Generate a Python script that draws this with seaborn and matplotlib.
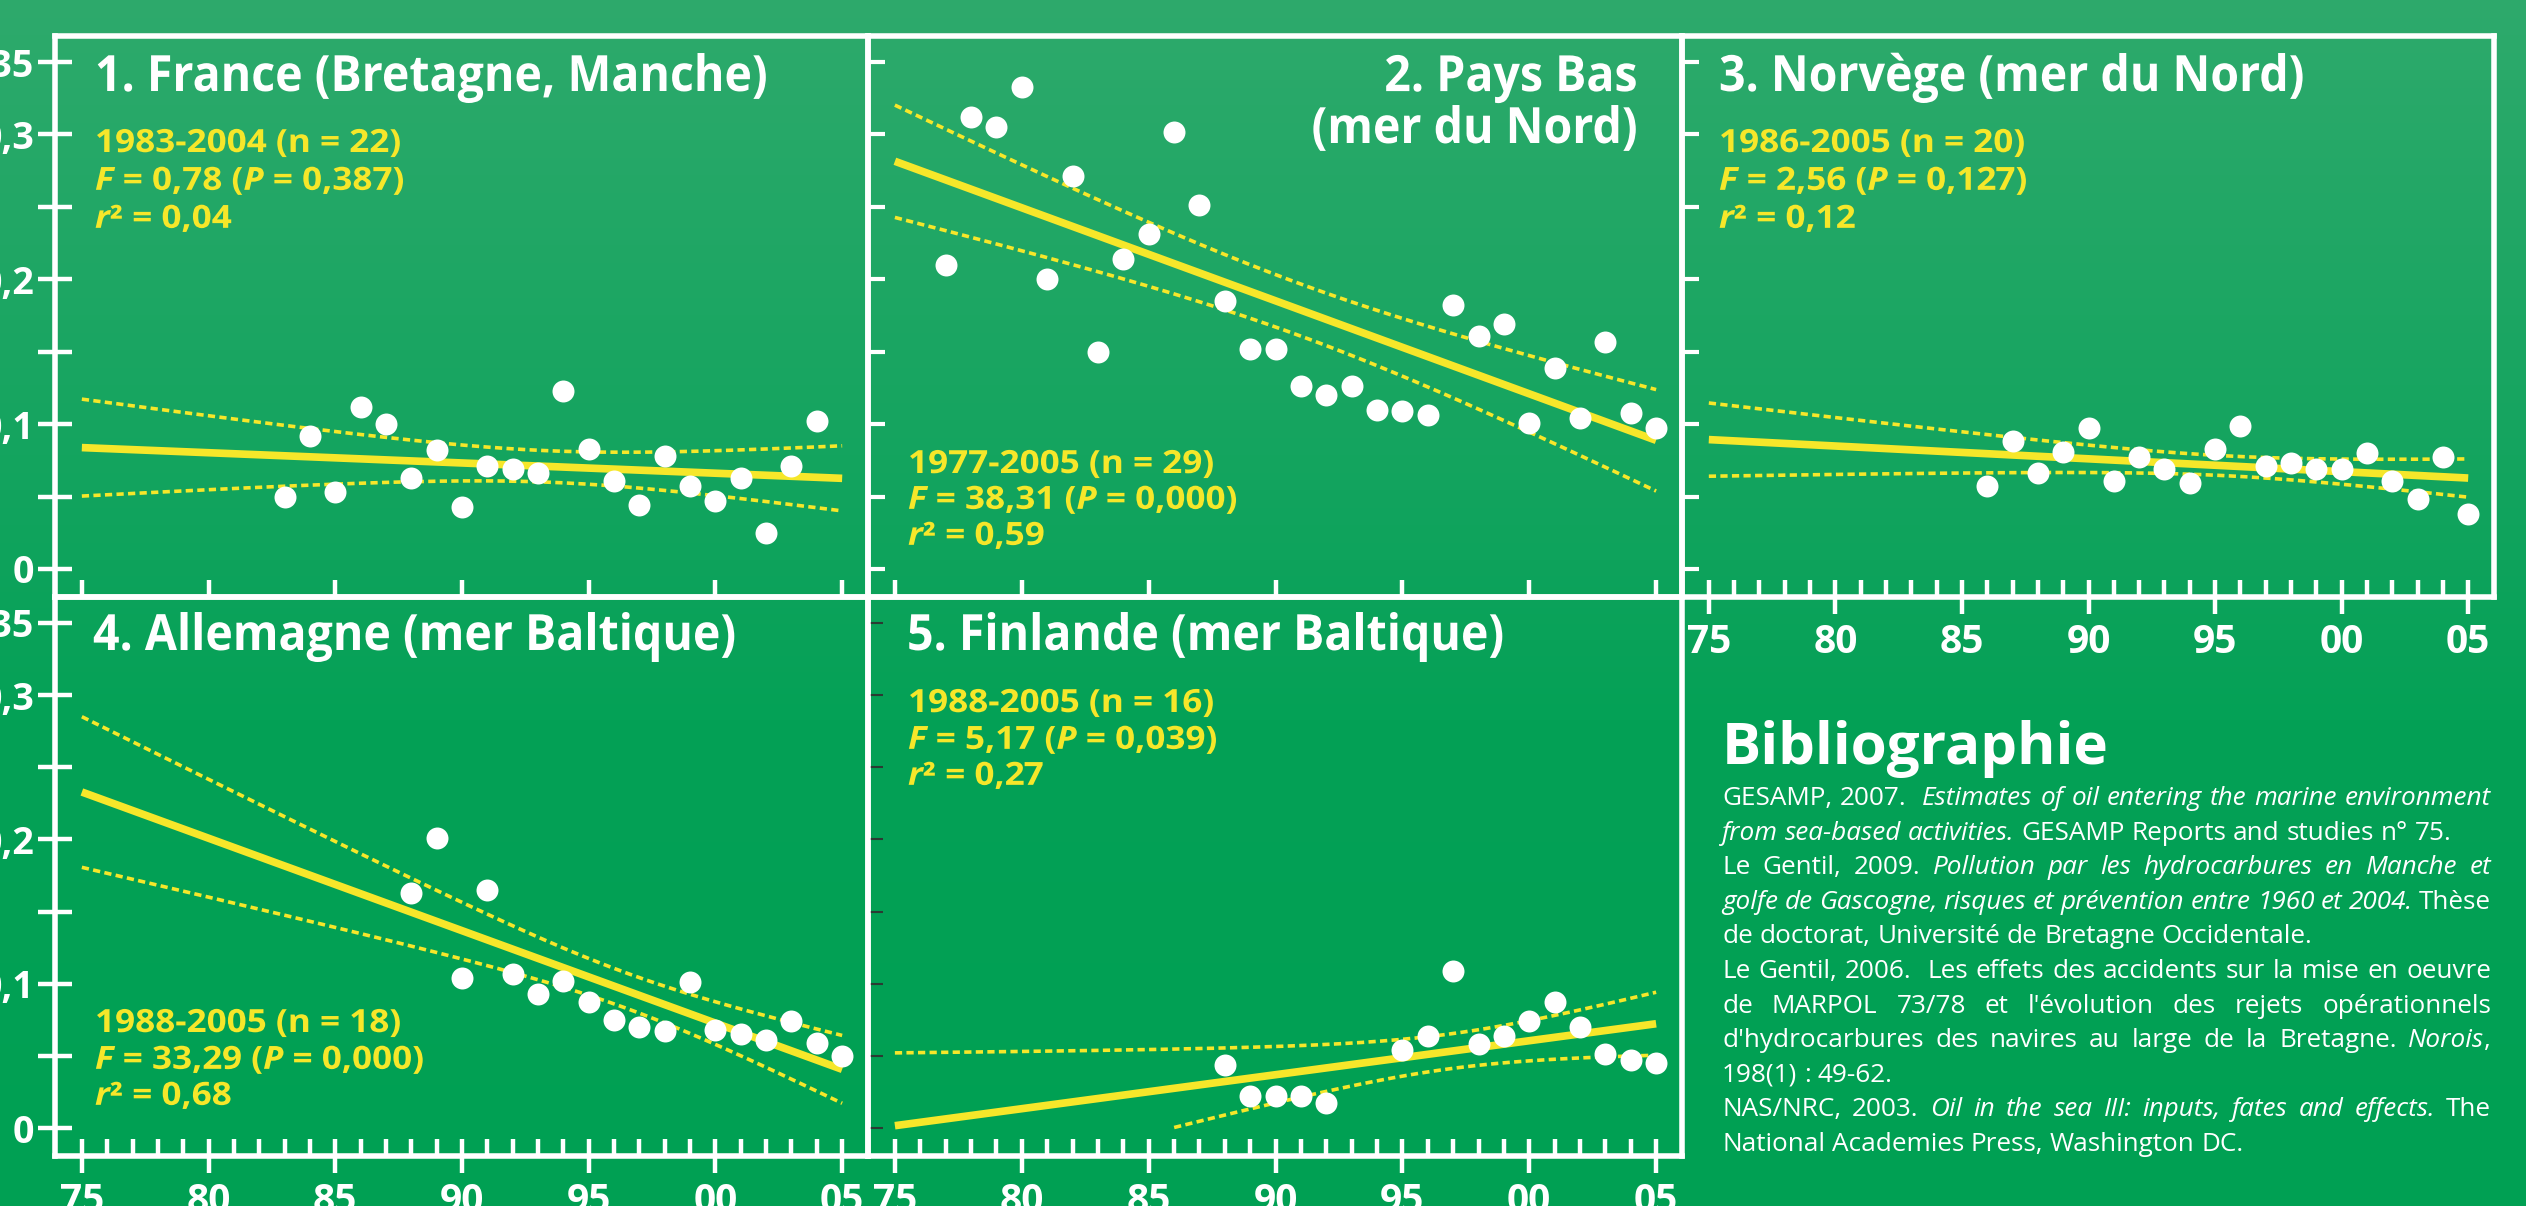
import numpy as np
import pandas as pd
import matplotlib
matplotlib.use("Agg")
import matplotlib.pyplot as plt
import seaborn as sns
from matplotlib import patheffects
from matplotlib.transforms import Affine2D

# ------------------------------------------------------------------ data
france_years = np.arange(1983, 2005)
france_vals = [0.050, 0.092, 0.053, 0.112, 0.100, 0.063, 0.082, 0.043, 0.071, 0.069, 0.066,
               0.123, 0.083, 0.061, 0.044, 0.078, 0.057, 0.047, 0.063, 0.025, 0.071, 0.102]

paysbas_years = np.arange(1977, 2006)
paysbas_vals = [0.210, 0.312, 0.305, 0.333, 0.200, 0.271, 0.150, 0.214, 0.231, 0.302,
                0.251, 0.185, 0.152, 0.152, 0.126, 0.120, 0.126, 0.110, 0.109, 0.106,
                0.182, 0.161, 0.169, 0.101, 0.139, 0.104, 0.157, 0.108, 0.097]

norvege_years = np.arange(1986, 2006)
norvege_vals = [0.057, 0.088, 0.066, 0.081, 0.097, 0.061, 0.077, 0.069, 0.059, 0.083,
                0.099, 0.071, 0.073, 0.069, 0.069, 0.080, 0.061, 0.048, 0.077, 0.038]

allemagne_years = np.arange(1988, 2006)
allemagne_vals = [0.163, 0.201, 0.104, 0.165, 0.107, 0.093, 0.102, 0.087, 0.075,
                  0.070, 0.067, 0.101, 0.068, 0.065, 0.061, 0.074, 0.059, 0.050]

finlande_years = [1988, 1989, 1990, 1991, 1992, 1995, 1996, 1997,
                  1998, 1999, 2000, 2001, 2002, 2003, 2004, 2005]
finlande_vals = [0.044, 0.022, 0.022, 0.022, 0.017, 0.054, 0.064, 0.109,
                 0.058, 0.064, 0.074, 0.087, 0.070, 0.051, 0.047, 0.045]

titles = ["1. France (Bretagne, Manche)", "2. Pays Bas\n(mer du Nord)",
          "3. Norvège (mer du Nord)", "4. Allemagne (mer Baltique)",
          "5. Finlande (mer Baltique)"]

stats = [
    ["1983-2004 (n = 22)", "$F$ = 0,78 ($P$ = 0,387)", "$r$² = 0,04"],
    ["1977-2005 (n = 29)", "$F$ = 38,31 ($P$ = 0,000)", "$r$² = 0,59"],
    ["1986-2005 (n = 20)", "$F$ = 2,56 ($P$ = 0,127)", "$r$² = 0,12"],
    ["1988-2005 (n = 18)", "$F$ = 33,29 ($P$ = 0,000)", "$r$² = 0,68"],
    ["1988-2005 (n = 16)", "$F$ = 5,17 ($P$ = 0,039)", "$r$² = 0,27"],
]

year_ticks = [1975, 1980, 1985, 1990, 1995, 2000, 2005]
year_labels = ["75", "80", "85", "90", "95", "00", "05"]
value_ticks = [0, 0.05, 0.10, 0.15, 0.20, 0.25, 0.30, 0.35]
value_labels = ["0", "", "0,1", "", "0,2", "", "0,3", "0,35"]

# two-sided 95 % Student t quantiles by degrees of freedom
t975 = {14: 2.145, 16: 2.120, 18: 2.101, 20: 2.086, 27: 2.052}

biblio_title = "Bibliographie"
# *...* marks italic runs; True = justified line
biblio_lines = [
    ("GESAMP, 2007.  *Estimates of oil entering the marine environment*", True),
    ("*from sea-based activities.* GESAMP Reports and studies n° 75.", False),
    ("Le Gentil, 2009. *Pollution par les hydrocarbures en Manche et*", True),
    ("*golfe de Gascogne, risques et prévention entre 1960 et 2004.* Thèse", True),
    ("de doctorat, Université de Bretagne Occidentale.", False),
    ("Le Gentil, 2006.  Les effets des accidents sur la mise en oeuvre", True),
    ("de MARPOL 73/78 et l'évolution des rejets opérationnels", True),
    ("d'hydrocarbures des navires au large de la Bretagne. *Norois*,", True),
    ("198(1) : 49-62.", False),
    ("NAS/NRC, 2003. *Oil in the sea III: inputs, fates and effects.* The", True),
    ("National Academies Press, Washington DC.", False),
]

# ------------------------------------------------------------------ style
W, H = 2526, 1206
YELLOW = "#f6e72a"
WHITE = "white"

sns.set_theme(style="ticks")
plt.rcParams["font.family"] = ["Open Sans", "DejaVu Sans"]
plt.rcParams["mathtext.fontset"] = "custom"
plt.rcParams["mathtext.rm"] = "Open Sans:bold"
plt.rcParams["mathtext.it"] = "Open Sans:italic:bold"
plt.rcParams["mathtext.bf"] = "Open Sans:bold"


class Condense(patheffects.AbstractPathEffect):
    """Rescale glyph outlines horizontally around an anchor."""

    def __init__(self, sx, anchor="left"):
        super().__init__()
        self.sx = sx
        self.anchor = anchor

    def draw_path(self, renderer, gc, tpath, affine, rgbFace=None):
        ext = tpath.get_extents()
        x0 = {"left": 0.0, "right": ext.x1, "center": 0.5 * (ext.x0 + ext.x1)}[self.anchor]
        t = Affine2D().translate(-x0, 0).scale(self.sx, 1).translate(x0, 0) + affine
        renderer.draw_path(gc, tpath, t, rgbFace)


def fx(x):
    return x / W


def fy(y):
    return 1 - y / H


fig = plt.figure(figsize=(W / 100, H / 100), dpi=100)

# green gradient backdrop
bg = fig.add_axes([0, 0, 1, 1], zorder=-10)
rows = np.arange(H)
stops = [0, 560, 720, H]
cols = np.array([[46, 170, 108], [14, 163, 92], [4, 161, 86], [0, 160, 83]]) / 255
img = np.stack([np.interp(rows, stops, cols[:, k]) for k in range(3)], axis=-1)[:, None, :]
bg.imshow(img, aspect="auto", extent=[0, 1, 0, 1], interpolation="bilinear")
bg.axis("off")

col_left = [55, 868, 1682]
col_w = [813, 814, 812]
row_top = [36, 597]
row_h = [561, 559]

datasets = [
    (france_years, france_vals),
    (paysbas_years, paysbas_vals),
    (norvege_years, norvege_vals),
    (allemagne_years, allemagne_vals),
    (finlande_years, finlande_vals),
]
grid_pos = [(0, 0), (0, 1), (0, 2), (1, 0), (1, 1)]

for i, ((yrs, vals), (r, c)) in enumerate(zip(datasets, grid_pos)):
    x0, w, y0, h = col_left[c], col_w[c], row_top[r], row_h[r]
    ax = fig.add_axes([fx(x0), fy(y0 + h), w / W, h / H])
    ax.set_facecolor("none")
    df = pd.DataFrame({"year": np.asarray(yrs, float), "value": np.asarray(vals, float)})

    ax.set_xlim(1975, 2005)
    ax.set_ylim(-0.0194, 0.368)
    sns.regplot(data=df, x="year", y="value", ax=ax, ci=None, truncate=False,
                scatter_kws=dict(s=250, color=WHITE, alpha=1, linewidths=0, zorder=5),
                line_kws=dict(color=YELLOW, linewidth=5.5, zorder=4,
                              solid_capstyle="butt"))

    # 95 % confidence band of the fitted mean
    xv, yv = df["year"].values, df["value"].values
    n = len(xv)
    b, a = np.polyfit(xv, yv, 1)
    resid = yv - (a + b * xv)
    s = np.sqrt(np.sum(resid ** 2) / (n - 2))
    sxx = np.sum((xv - xv.mean()) ** 2)
    gx = np.linspace(1975, 2005, 200)
    gy = a + b * gx
    half = t975[n - 2] * s * np.sqrt(1 / n + (gx - xv.mean()) ** 2 / sxx)
    lo = gy - half
    lo = np.where(lo >= 0, lo, np.nan)
    for band in (gy + half, lo):
        sns.lineplot(x=gx, y=band, ax=ax, color=YELLOW, linewidth=2.6,
                     linestyle=(0, (2.0, 1.2)), zorder=3)

    ax.set_xlim(1973.94, 2006.02)
    ax.set_ylim(-0.0194, 0.368)
    ax.set_xlabel("")
    ax.set_ylabel("")
    for sp in ax.spines.values():
        sp.set_visible(True)
        sp.set_color(WHITE)
        sp.set_linewidth(4)

    # y axis
    if c == 0:
        ax.set_yticks(value_ticks, value_labels, fontsize=27, fontweight="bold", color=WHITE)
        ax.tick_params(axis="y", direction="inout", length=24, width=3.2, color=WHITE, pad=3)
    else:
        ax.set_yticks(value_ticks, [""] * len(value_ticks))
        if i == 4:
            ax.tick_params(axis="y", direction="in", length=11, width=1.5, color="#2b3b33")
        else:
            ax.tick_params(axis="y", direction="in", length=12, width=3.0, color=WHITE)

    # x axis
    if r == 0 and c < 2:
        ax.set_xticks(year_ticks, [""] * len(year_ticks))
        ax.tick_params(axis="x", direction="in", length=12, width=3.2, color=WHITE)
    else:
        ax.set_xticks(year_ticks, year_labels, fontsize=28, fontweight="bold", color=WHITE)
        ax.set_xticks(np.arange(1975, 2006), minor=True)
        ax.tick_params(axis="x", which="major", direction="inout", length=24, width=3.2,
                       color=WHITE, pad=7)
        ax.tick_params(axis="x", which="minor", direction="in", length=12, width=3.2,
                       color=WHITE)
    ax.tick_params(top=False, right=False)

# panel titles
title_kw = dict(color=WHITE, fontsize=36, fontweight="bold", va="baseline")
fig.text(fx(95), fy(91), titles[0], ha="left",
         path_effects=[Condense(0.93)], **title_kw)
fig.text(fx(1638), fy(143), titles[1], ha="right", linespacing=1.05,
         path_effects=[Condense(0.93, "right")], **title_kw)
fig.text(fx(1719), fy(91), titles[2], ha="left",
         path_effects=[Condense(0.93)], **title_kw)
fig.text(fx(93), fy(650), titles[3], ha="left",
         path_effects=[Condense(0.93)], **title_kw)
fig.text(fx(907), fy(650), titles[4], ha="left",
         path_effects=[Condense(0.93)], **title_kw)

# regression statistics
stat_anchor = [(95, [152, 190, 228]), (908, [473, 509, 545]), (1719, [152, 190, 228]),
               (95, [1032, 1069, 1105]), (908, [712, 749, 785])]
for lines, (sx_, ys) in zip(stats, stat_anchor):
    for line, yb in zip(lines, ys):
        fig.text(fx(sx_), fy(yb), line, color=YELLOW, fontsize=23, fontweight="bold",
                 ha="left", va="baseline", path_effects=[Condense(1.1)])

# bibliography block
fig.text(fx(1722), fy(764), biblio_title, color=WHITE, fontsize=42, fontweight="bold",
         ha="left", va="baseline")

renderer = fig.canvas.get_renderer()
body_size = 18.8
left_px, right_px = 1722, 2491
base0, step = 805, 34.6


def parse_words(line):
    """Split a marked-up line into words; each word is a list of (text, italic) runs
    and carries the number of spaces before it."""
    words, runs, cur, italic = [], [], "", False
    pending_gap = 0
    for ch in line + " ":
        if ch == "*":
            if cur:
                runs.append((cur, italic))
                cur = ""
            italic = not italic
        elif ch == " ":
            if cur:
                runs.append((cur, italic))
                cur = ""
            if runs:
                words.append((pending_gap, runs))
                runs = []
                pending_gap = 0
            pending_gap += 1
        else:
            cur += ch
    return words


def make_text(x, y, s, italic):
    return fig.text(fx(x), fy(y), s, color=WHITE, fontsize=body_size,
                    fontstyle="italic" if italic else "normal", ha="left", va="baseline")


def width_of(t):
    return t.get_window_extent(renderer).width


probe_a = make_text(0, 0, "a a", False)
probe_b = make_text(0, 0, "aa", False)
space_w = width_of(probe_a) - width_of(probe_b)
probe_a.remove()
probe_b.remove()

for k, (line, justify) in enumerate(biblio_lines):
    yb = base0 + k * step
    words = parse_words(line)
    placed = []
    total = 0.0
    for gap, runs in words:
        items = []
        ww = 0.0
        for txt, it in runs:
            t = make_text(0, yb, txt, it)
            wi = width_of(t)
            items.append((t, ww))
            ww += wi
        placed.append((gap, items, ww))
        total += ww
    gaps = [g for g, _, _ in placed[1:]]
    if justify and gaps:
        unit = (right_px - left_px - total) / sum(gaps)
    else:
        unit = space_w
    x = left_px
    for j, (gap, items, ww) in enumerate(placed):
        if j > 0:
            x += gap * unit
        for t, off in items:
            t.set_x(fx(x + off))
        x += ww

fig.savefig("out.png", dpi=100)
